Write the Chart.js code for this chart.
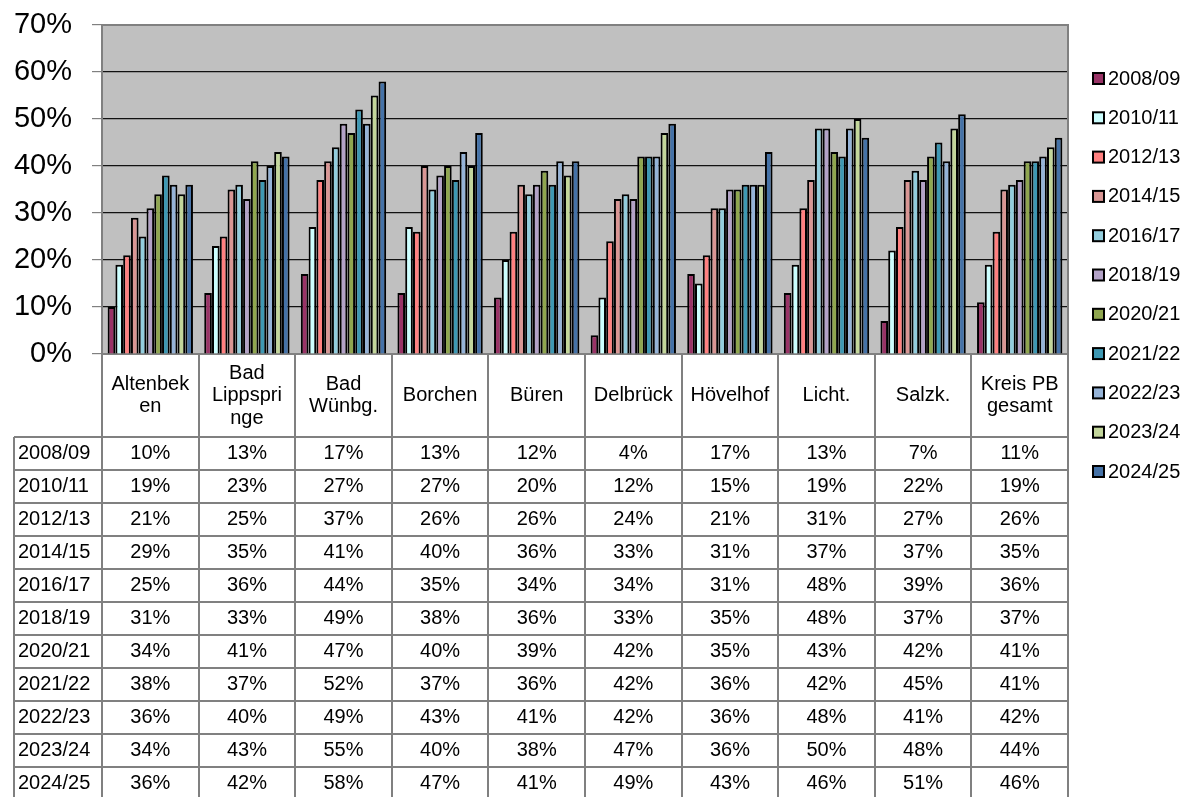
<!DOCTYPE html>
<html>
<head>
<meta charset="utf-8">
<script src="https://cdn.jsdelivr.net/npm/chart.js@4"></script>
<style>
  html, body { margin: 0; padding: 0; background: #fff; }
  #wrap { width: 1192px; height: 797px; }
</style>
</head>
<body>
<div id="wrap"><canvas id="chart" width="1192" height="797"></canvas></div>
<script>
const categories = [["Altenbek", "en"], ["Bad", "Lippspri", "nge"], ["Bad", "Wünbg."], ["Borchen"], ["Büren"],
  ["Delbrück"], ["Hövelhof"], ["Licht."], ["Salzk."], ["Kreis PB", "gesamt"]];
const years = ["2008/09", "2010/11", "2012/13", "2014/15", "2016/17", "2018/19", "2020/21", "2021/22", "2022/23", "2023/24", "2024/25"];

const y0809 = [10, 13, 17, 13, 12, 4, 17, 13, 7, 11];
const y1011 = [19, 23, 27, 27, 20, 12, 15, 19, 22, 19];
const y1213 = [21, 25, 37, 26, 26, 24, 21, 31, 27, 26];
const y1415 = [29, 35, 41, 40, 36, 33, 31, 37, 37, 35];
const y1617 = [25, 36, 44, 35, 34, 34, 31, 48, 39, 36];
const y1819 = [31, 33, 49, 38, 36, 33, 35, 48, 37, 37];
const y2021 = [34, 41, 47, 40, 39, 42, 35, 43, 42, 41];
const y2122 = [38, 37, 52, 37, 36, 42, 36, 42, 45, 41];
const y2223 = [36, 40, 49, 43, 41, 42, 36, 48, 41, 42];
const y2324 = [34, 43, 55, 40, 38, 47, 36, 50, 48, 44];
const y2425 = [36, 42, 58, 47, 41, 49, 43, 46, 51, 46];

const yTicks = [0, 10, 20, 30, 40, 50, 60, 70];

const series = [y0809, y1011, y1213, y1415, y1617, y1819, y2021, y2122, y2223, y2324, y2425];
const colors = ["#993366", "#ccffff", "#ff8080", "#d99694", "#93cddd", "#b3a2c7", "#8fa64f", "#3e98b3", "#95b3d7", "#c3d69b", "#4572a7"];

const FONT = "'Liberation Sans', Arial, sans-serif";

const plotBackground = {
  id: "plotBackground",
  beforeDraw(chart) {
    const {ctx, chartArea: a} = chart;
    ctx.save();
    ctx.fillStyle = "#c0c0c0";
    ctx.fillRect(a.left, a.top, a.right - a.left, a.bottom - a.top);
    ctx.restore();
  },
  afterDatasetsDraw(chart) {
    const {ctx, chartArea: a} = chart;
    ctx.save();
    ctx.strokeStyle = "#808080";
    ctx.lineWidth = 2;
    ctx.beginPath();
    ctx.moveTo(a.left, a.top);
    ctx.lineTo(a.right, a.top);
    ctx.lineTo(a.right, a.bottom);
    ctx.stroke();
    ctx.restore();
  }
};

// data table under the plot, columns follow the x scale
const dataTable = {
  id: "dataTable",
  afterDraw(chart) {
    const {ctx, chartArea: a} = chart;
    const x = chart.scales.x;
    const n = categories.length;
    const step = x.getPixelForValue(1) - x.getPixelForValue(0);
    const headTop = a.bottom, headBottom = a.bottom + 83, rowH = 33, labelLeft = 14;
    const bottom = chart.height;
    ctx.save();
    ctx.strokeStyle = "#808080";
    ctx.lineWidth = 2;
    ctx.beginPath();
    for (let i = 0; i <= n; i++) {
      const px = Math.round(x.getPixelForValue(0) - step / 2 + i * step);
      ctx.moveTo(px, headTop);
      ctx.lineTo(px, bottom);
    }
    ctx.moveTo(labelLeft, headBottom);
    ctx.lineTo(labelLeft, bottom);
    for (let r = 0; r <= years.length; r++) {
      const py = headBottom + r * rowH;
      ctx.moveTo(labelLeft, py);
      ctx.lineTo(a.right, py);
    }
    ctx.stroke();

    ctx.fillStyle = "#000";
    ctx.font = "20px " + FONT;
    ctx.textBaseline = "middle";
    ctx.textAlign = "center";
    categories.forEach((lines, i) => {
      const cx = x.getPixelForValue(i);
      const mid = (headTop + headBottom) / 2;
      lines.forEach((t, j) => {
        ctx.fillText(t, cx, mid + (j - (lines.length - 1) / 2) * 22.5);
      });
    });
    series.forEach((vals, r) => {
      const cy = headBottom + rowH * (r + 0.5);
      ctx.textAlign = "left";
      ctx.fillText(years[r], labelLeft + 4, cy);
      ctx.textAlign = "center";
      vals.forEach((v, i) => ctx.fillText(v + "%", x.getPixelForValue(i), cy));
    });
    ctx.restore();
  }
};

const sideLegend = {
  id: "sideLegend",
  afterDraw(chart) {
    const {ctx} = chart;
    ctx.save();
    ctx.font = "20px " + FONT;
    ctx.textBaseline = "middle";
    ctx.textAlign = "left";
    chart.data.datasets.forEach((ds, i) => {
      const cy = 79 + i * 39.3;
      ctx.fillStyle = ds.backgroundColor;
      ctx.fillRect(1093, cy - 6, 11, 11);
      ctx.strokeStyle = "#000";
      ctx.lineWidth = 2;
      ctx.strokeRect(1093, cy - 6, 11, 11);
      ctx.fillStyle = "#000";
      ctx.fillText(ds.label, 1108, cy);
    });
    ctx.restore();
  }
};

new Chart(document.getElementById("chart"), {
  type: "bar",
  data: {
    labels: categories,
    datasets: series.map((vals, i) => ({
      label: years[i],
      data: vals,
      backgroundColor: colors[i],
      borderColor: "#000",
      borderWidth: 2,
      categoryPercentage: 0.885,
      barPercentage: 0.98
    }))
  },
  options: {
    responsive: false,
    animation: false,
    devicePixelRatio: 1,
    // top of the plot comes from tick padding + half label line height (20 + 5)
    layout: {autoPadding: false, padding: {left: 0, top: 0, right: 124, bottom: 0}},
    plugins: {legend: {display: false}, tooltip: {enabled: false}},
    scales: {
      x: {
        grid: {display: false},
        border: {display: true, color: "#808080", width: 2},
        ticks: {display: false},
        afterFit(scale) { scale.height = 443; }
      },
      y: {
        min: 0,
        max: 70,
        afterBuildTicks(scale) { scale.ticks = yTicks.map(v => ({value: v})); },
        afterFit(scale) { scale.width = 102; },
        border: {display: true, color: "#808080", width: 2},
        grid: {
          color: ctx => (ctx.tick && ctx.tick.value === 70 ? "#808080" : "#111"),
          lineWidth: 1.2,
          tickColor: "#808080",
          tickLength: 10
        },
        ticks: {
          padding: 20,
          color: "#000",
          font: {family: FONT, size: 29, lineHeight: 0.345},
          callback: v => v + "%"
        }
      }
    }
  },
  plugins: [plotBackground, dataTable, sideLegend]
});
</script>
</body>
</html>
